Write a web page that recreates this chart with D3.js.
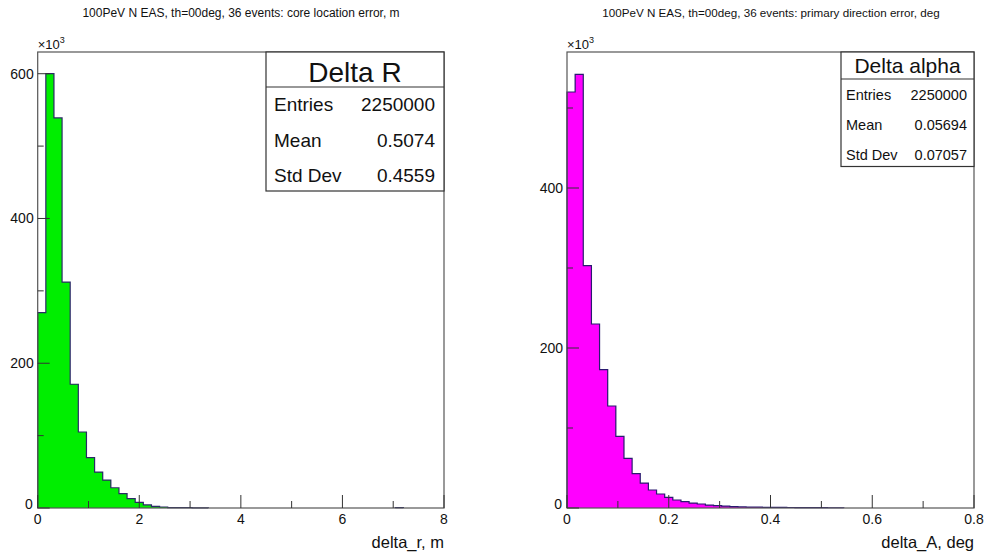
<!DOCTYPE html>
<html><head><meta charset="utf-8">
<script src="https://cdn.jsdelivr.net/npm/d3@7"></script>
<style>
html,body{margin:0;padding:0;background:#fff;}
svg{display:block;font-family:"Liberation Sans",Arial,Helvetica,sans-serif;}
</style></head>
<body>
<svg id="c" width="988" height="554"></svg>
<script>
// ---------------- DATA ----------------
const leftTitle = "100PeV N EAS, th=00deg, 36 events: core location error, m";
const rightTitle = "100PeV N EAS, th=00deg, 36 events: primary direction error, deg";
// 50 bins over [0,8], counts in units of 10^3
const leftRange = [0, 8];
const leftCounts = [270, 600, 539, 312, 171, 105, 69.5, 49.7, 38.5, 28,
  19.8, 12.9, 7.8, 4.2, 2.3, 1.4, 0.6, 0.5, 0.4, 0.3,
  0.25, 0, 0, 0, 0, 0, 0, 0, 0, 0,
  0, 0, 0, 0, 0, 0, 0, 0, 0, 0,
  0, 0, 0, 0, 0.5, 0, 0, 0, 0, 0];
// 50 bins over [0,0.8]
const rightRange = [0, 0.8];
const rightCounts = [520, 542, 303, 230, 173, 127.5, 89.6, 62, 43, 31,
  22.5, 17.5, 13.3, 10, 7.9, 6.2, 5, 3.7, 2.9, 2.4,
  1.7, 1.3, 1.1, 1.0, 0.9, 0.8, 0.7, 0.6, 0.5, 0.5,
  0.4, 0.4, 0.3, 0.3, 0, 0, 0, 0, 0, 0,
  0, 0, 0, 0, 0, 0, 0, 0, 0, 0];
const leftXTicks = [0, 2, 4, 6, 8];
const leftXMinor = [1, 3, 5, 7];
const leftYTicks = [0, 200, 400, 600];
const leftYMinor = [100, 300, 500];
const rightXTicks = [0, 0.2, 0.4, 0.6, 0.8];
const rightXMinor = [0.1, 0.3, 0.5, 0.7];
const rightYTicks = [0, 200, 400];
const rightYMinor = [100, 300, 500];
const leftStatsName = "Delta R";
const leftStats = [["Entries", "2250000"], ["Mean", "0.5074"], ["Std Dev", "0.4559"]];
const rightStatsName = "Delta alpha";
const rightStats = [["Entries", "2250000"], ["Mean", "0.05694"], ["Std Dev", "0.07057"]];
const leftXLabel = "delta_r, m";
const rightXLabel = "delta_A, deg";

// ---------------- DRAW ----------------
const svg = d3.select("#c");

function panel(o) {
  const g = svg.append("g");
  const x = d3.scaleLinear().domain(o.range).range([o.x0, o.x1]);
  const y = d3.scaleLinear().domain([0, o.ymax]).range([o.y0, o.y1]);
  const n = o.counts.length;
  const bw = (o.range[1] - o.range[0]) / n;
  const bins = o.counts.map((v, i) => ({lo: o.range[0] + i * bw, hi: o.range[0] + (i + 1) * bw, v}));

  // title
  g.append("text").attr("x", o.titleX).attr("y", 17).attr("text-anchor", "middle")
    .attr("font-size", o.titleSize).attr("fill", "#111").text(o.title);

  // bars fill
  g.append("g").selectAll("rect").data(bins.filter(b => b.v > 0)).join("rect")
    .attr("x", b => x(b.lo)).attr("width", b => x(b.hi) - x(b.lo))
    .attr("y", b => y(b.v)).attr("height", b => y(0) - y(b.v))
    .attr("fill", o.fill).attr("shape-rendering", "crispEdges");

  // outline (step), one path per contiguous run of non-empty bins
  const runs = [];
  let cur = null;
  bins.forEach(b => {
    if (b.v > 0) { if (!cur) { cur = []; runs.push(cur); } cur.push(b); }
    else cur = null;
  });
  const line = d3.line().x(p => x(p[0])).y(p => y(p[1]));
  runs.forEach(run => {
    const pts = [[run[0].lo, 0]];
    run.forEach(b => { pts.push([b.lo, b.v]); pts.push([b.hi, b.v]); });
    pts.push([run[run.length - 1].hi, 0]);
    g.append("path").attr("d", line(pts))
      .attr("fill", "none").attr("stroke", o.line).attr("stroke-width", 1.2);
  });

  // frame
  g.append("rect").attr("x", o.x0).attr("y", o.y1).attr("width", o.x1 - o.x0).attr("height", o.y0 - o.y1)
    .attr("fill", "none").attr("stroke", "#555").attr("stroke-width", 1.2);

  // y axis ticks
  const ya = g.append("g");
  ya.selectAll("line.maj").data(o.yTicks).join("line").attr("class", "maj")
    .attr("x1", o.x0).attr("x2", o.x0 + 12).attr("y1", d => y(d)).attr("y2", d => y(d))
    .attr("stroke", "#333");
  ya.selectAll("line.min").data(o.yMinor.filter(d => d <= o.ymax)).join("line").attr("class", "min")
    .attr("x1", o.x0).attr("x2", o.x0 + 6).attr("y1", d => y(d)).attr("y2", d => y(d))
    .attr("stroke", "#333");
  ya.selectAll("text").data(o.yTicks).join("text")
    .attr("x", d => d === 0 ? o.x0 - 5 : o.x0 - 4)
    .attr("y", d => d === 0 ? y(d) + 1 : y(d) + 5)
    .attr("text-anchor", "end").attr("font-size", 14).attr("fill", "#111").text(d => d);
  const mul = g.append("text").attr("x", o.x0).attr("y", 49).attr("font-size", 13).attr("fill", "#111");
  mul.append("tspan").text("\u00d710");
  mul.append("tspan").attr("dy", -6).attr("font-size", 9).text("3");

  // x axis ticks
  const xa = g.append("g");
  xa.selectAll("line.maj").data(o.xTicks).join("line").attr("class", "maj")
    .attr("x1", d => x(d)).attr("x2", d => x(d)).attr("y1", o.y0).attr("y2", o.y0 - 13)
    .attr("stroke", "#333");
  xa.selectAll("line.min").data(o.xMinor).join("line").attr("class", "min")
    .attr("x1", d => x(d)).attr("x2", d => x(d)).attr("y1", o.y0).attr("y2", o.y0 - 7)
    .attr("stroke", "#333");
  xa.selectAll("text").data(o.xTicks).join("text")
    .attr("x", d => x(d)).attr("y", 524).attr("text-anchor", "middle")
    .attr("font-size", 14).attr("fill", "#111").text(d => d3.format("")(d));
  g.append("text").attr("x", o.x1).attr("y", 548).attr("text-anchor", "end")
    .attr("font-size", 16.5).attr("fill", "#111").text(o.xLabel);

  // stats box
  const s = o.stats;
  const sb = g.append("g");
  sb.append("rect").attr("x", s.x0).attr("y", o.y1).attr("width", o.x1 - s.x0).attr("height", s.y2 - o.y1)
    .attr("fill", "#fff").attr("stroke", "#333").attr("stroke-width", 1.2);
  sb.append("line").attr("x1", s.x0).attr("x2", o.x1).attr("y1", s.y1).attr("y2", s.y1)
    .attr("stroke", "#333").attr("stroke-width", 1.2);
  sb.append("text").attr("x", (s.x0 + o.x1) / 2).attr("y", s.titleY).attr("text-anchor", "middle")
    .attr("font-size", s.titleSize).attr("fill", "#111").text(s.name);
  s.rows.forEach((r, i) => {
    sb.append("text").attr("x", s.x0 + s.padL).attr("y", s.rowY[i]).attr("font-size", s.rowSize)
      .attr("fill", "#111").text(r[0]);
    sb.append("text").attr("x", o.x1 - s.padR).attr("y", s.rowY[i]).attr("text-anchor", "end")
      .attr("font-size", s.rowSize).attr("fill", "#111").text(r[1]);
  });
}

panel({
  title: leftTitle, titleX: 241, titleSize: 12.0, range: leftRange, counts: leftCounts,
  x0: 37.7, x1: 444, y0: 508, y1: 52, ymax: 630,
  fill: "#00ee00", line: "#2a2a66",
  xTicks: leftXTicks, xMinor: leftXMinor, yTicks: leftYTicks, yMinor: leftYMinor,
  xLabel: leftXLabel,
  stats: {name: leftStatsName, rows: leftStats, x0: 266, y1: 87, y2: 191, titleY: 82, titleSize: 28,
    rowY: [111, 147, 182], rowSize: 19, padL: 8, padR: 9}
});
panel({
  title: rightTitle, titleX: 771, titleSize: 11.65, range: rightRange, counts: rightCounts,
  x0: 567, x1: 974, y0: 508, y1: 52, ymax: 570,
  fill: "#ff00ff", line: "#2a1a70",
  xTicks: rightXTicks, xMinor: rightXMinor, yTicks: rightYTicks, yMinor: rightYMinor,
  xLabel: rightXLabel,
  stats: {name: rightStatsName, rows: rightStats, x0: 841, y1: 79, y2: 166.5, titleY: 73, titleSize: 21,
    rowY: [100, 130, 160], rowSize: 14.5, padL: 5, padR: 7}
});
</script>
</body></html>
